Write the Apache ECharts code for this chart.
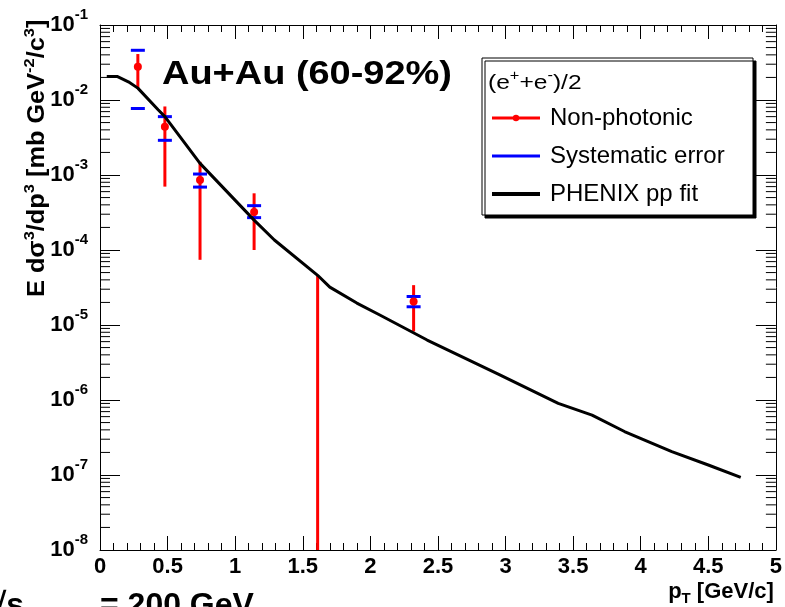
<!DOCTYPE html>
<html><head><meta charset="utf-8">
<script src="https://cdn.jsdelivr.net/npm/echarts@6/dist/echarts.min.js"></script>
<style>html,body{margin:0;padding:0;background:#fff}#c{width:785px;height:607px}</style>
</head><body><div id="c"></div>
<script>
const FONT = "'Liberation Sans', Arial, Helvetica, sans-serif";

// ---- Non-photonic electrons (e+ + e-)/2, Au+Au 60-92% ----
const ptPoints    = [0.28, 0.48, 0.74, 1.14, 1.61, 2.32];
const yieldPoints = [2.78e-2, 4.4e-3, 8.6e-4, 3.2e-4, null, 2.05e-5];
const statHigh    = [4.1e-2, 8.2e-3, 1.50e-3, 5.7e-4, 4.6e-5, 3.4e-5];
const statLow     = [1.40e-2, 7.0e-4, 7.4e-5, 1.0e-4, 0, 8.2e-6];   // 0 = below axis range
const sysHigh     = [4.6e-2, 6.0e-3, 1.03e-3, 3.9e-4, null, 2.4e-5];
const sysLow      = [7.7e-3, 2.9e-3, 6.9e-4, 2.7e-4, null, 1.75e-5];

// ---- PHENIX pp fit ----
const ptFit     = [0.05, 0.13, 0.21, 0.28, 0.43, 0.48, 0.74, 1.14, 1.29, 1.61, 1.70, 1.90, 2.07, 2.42, 2.95, 3.39, 3.64, 3.88, 4.23, 4.50, 4.74];
const fitValues = [2.05e-2, 2.05e-2, 1.75e-2, 1.44e-2, 7.4e-3, 6.0e-3, 1.43e-3, 2.5e-4, 1.36e-4, 4.6e-5, 3.2e-5, 1.96e-5, 1.36e-5, 6.3e-6, 2.2e-6, 9.0e-7, 6.3e-7, 3.8e-7, 2.05e-7, 1.36e-7, 9.3e-8];

// ---- axes ----
const X_MIN = 0, X_MAX = 5, X_STEP = 0.5;
const Y_MIN = 1e-8, Y_MAX = 1e-1;
const yDecadeExponents = [-8, -7, -6, -5, -4, -3, -2, -1];
const yMinorMultipliers = [2, 3, 4, 5, 6, 7, 8, 9];

const yMinorTicks = [];
yDecadeExponents.slice(0, -1).forEach(e => yMinorMultipliers.forEach(k => yMinorTicks.push([X_MIN, k * Math.pow(10, e)])));

const chart = echarts.init(document.getElementById('c'), null, {renderer: 'canvas'});

const axisLineStyle = {color: '#000', width: 1};
const baseX = {
  type: 'value', min: X_MIN, max: X_MAX, interval: X_STEP,
  axisLine: {show: true, onZero: false, lineStyle: axisLineStyle},
  axisTick: {show: true, inside: true, length: 14, lineStyle: axisLineStyle},
  minorTick: {show: true, splitNumber: 5, length: 7, lineStyle: axisLineStyle},
  splitLine: {show: false}, minorSplitLine: {show: false}
};
const baseY = {
  type: 'log', logBase: 10, min: Y_MIN, max: Y_MAX, splitNumber: 7,
  axisLine: {show: true, onZero: false, lineStyle: axisLineStyle},
  axisTick: {show: true, inside: true, length: 20, lineStyle: axisLineStyle},
  minorTick: {show: false},
  splitLine: {show: false}
};

const option = {
  animation: false,
  backgroundColor: '#fff',
  grid: {left: 100, right: 7, top: 25, bottom: 57, containLabel: false},
  xAxis: [
    Object.assign({}, baseX, {
      position: 'bottom',
      axisLabel: {show: true, margin: 6, color: '#000', fontFamily: FONT, fontSize: 22, fontWeight: 'bold', showMinLabel: true, showMaxLabel: true},
      name: '{p|p}{t|T}{p| [GeV/c]}', nameLocation: 'end', nameGap: -2,
      nameTextStyle: {align: 'right', verticalAlign: 'top', padding: [28, 0, 0, 0],
        rich: {p: {fontFamily: FONT, fontSize: 22, fontWeight: 'bold', color: '#000', lineHeight: 28},
               t: {fontFamily: FONT, fontSize: 15, fontWeight: 'bold', color: '#000', lineHeight: 14, verticalAlign: 'bottom'}}}
    }),
    Object.assign({}, baseX, {position: 'top', axisLabel: {show: false}})
  ],
  yAxis: [
    Object.assign({}, baseY, {
      position: 'left',
      axisLabel: {show: true, margin: 12, showMinLabel: true, showMaxLabel: true,
        formatter: v => '{a|10}{b|' + Math.round(Math.log10(v)) + '}',
        rich: {a: {fontFamily: FONT, fontSize: 22, fontWeight: 'bold', color: '#000', lineHeight: 36},
               b: {fontFamily: FONT, fontSize: 15, fontWeight: 'bold', color: '#000', lineHeight: 10, verticalAlign: 'top'}}}
    }),
    Object.assign({}, baseY, {position: 'right', axisLabel: {show: false}})
  ],
  legend: {
    left: 490, top: 106, orient: 'vertical', padding: 0,
    itemWidth: 48, itemHeight: 8, itemGap: 14, selectedMode: false,
    textStyle: {fontFamily: FONT, fontSize: 24, color: '#000', lineHeight: 24, padding: [0, 0, 0, 5]},
    data: [
      {name: 'Non-photonic', lineStyle: {opacity: 1, width: 3, color: '#ff0000'}, itemStyle: {color: '#ff0000'}},
      {name: 'Systematic error', lineStyle: {opacity: 1, width: 3, color: '#0000ff'}, itemStyle: {opacity: 0}},
      {name: 'PHENIX pp fit', lineStyle: {opacity: 1, width: 4, color: '#000'}, itemStyle: {opacity: 0}}
    ]
  },
  graphic: [
    {type: 'rect', z: 1, shape: {x: 482, y: 58, width: 271, height: 157},
     style: {fill: '#fff', stroke: '#000', lineWidth: 1, shadowColor: '#000', shadowOffsetX: 3, shadowOffsetY: 3, shadowBlur: 0}},
    {type: 'text', z: 2, x: 488, y: 83, scaleX: 1.17,
     style: {text: '{n|(e}{s|+}{n|+e}{s|-}{n|)/2}', textAlign: 'left', textVerticalAlign: 'middle',
       rich: {n: {fontFamily: FONT, fontSize: 21, color: '#000', lineHeight: 28},
              s: {fontFamily: FONT, fontSize: 14, color: '#000', lineHeight: 12, verticalAlign: 'top'}}}},
    {type: 'text', z: 2, x: 162, y: 75, scaleX: 1.15,
     style: {text: 'Au+Au (60-92%)', fontFamily: FONT, fontSize: 33, fontWeight: 'bold', fill: '#000', textAlign: 'left', textVerticalAlign: 'middle'}},
    {type: 'text', z: 2, x: 38, y: 297, rotation: Math.PI / 2, scaleX: 1.1,
     style: {text: '{n|E d\u03c3}{s|3}{n|/dp}{s|3}{n| [mb GeV}{s|-2}{n|/c}{s|3}{n|]}', textAlign: 'left', textVerticalAlign: 'middle',
       rich: {n: {fontFamily: FONT, fontSize: 23, fontWeight: 'bold', color: '#000', lineHeight: 32},
              s: {fontFamily: FONT, fontSize: 15, fontWeight: 'bold', color: '#000', lineHeight: 12, verticalAlign: 'top'}}}},
    {type: 'text', z: 2, x: 24, y: 606,
     style: {text: '\u221as', fontFamily: FONT, fontSize: 32, fontWeight: 'bold', fill: '#000', textAlign: 'right', textVerticalAlign: 'middle'}},
    {type: 'text', z: 2, x: 26, y: 622,
     style: {text: 'NN', fontFamily: FONT, fontSize: 22, fontWeight: 'bold', fill: '#000', textAlign: 'left', textVerticalAlign: 'middle'}},
    {type: 'text', z: 2, x: 100, y: 606,
     style: {text: '= 200 GeV', fontFamily: FONT, fontSize: 32, fontWeight: 'bold', fill: '#000', textAlign: 'left', textVerticalAlign: 'middle'}}
  ],
  series: [
    {
      name: 'yMinorTicks', type: 'custom', z: 1, clip: false, silent: true,
      data: yMinorTicks,
      renderItem: (params, api) => {
        const v = api.value(1);
        const l = api.coord([X_MIN, v]);
        const r = api.coord([X_MAX, v]);
        const st = {stroke: '#000', lineWidth: 1};
        return {type: 'group', children: [
          {type: 'line', shape: {x1: l[0], y1: l[1], x2: l[0] + 10, y2: l[1]}, style: st},
          {type: 'line', shape: {x1: r[0] - 10, y1: r[1], x2: r[0], y2: r[1]}, style: st}
        ]};
      }
    },
    {
      name: 'Statistical error', type: 'custom', z: 2, clip: true, silent: true,
      data: ptPoints.map((p, i) => [p, statHigh[i], statLow[i]]),
      renderItem: (params, api) => {
        const x = api.value(0), hi = api.value(1), lo = api.value(2);
        const p1 = api.coord([x, hi]);
        const p2 = api.coord([x, lo > 0 ? lo : Y_MIN]);
        return {type: 'line', shape: {x1: p1[0], y1: p1[1], x2: p2[0], y2: p2[1]}, style: {stroke: '#ff0000', lineWidth: 3}};
      }
    },
    {
      name: 'Systematic error caps', type: 'custom', z: 3, clip: true, silent: true,
      data: ptPoints.map((p, i) => [p, sysLow[i], sysHigh[i]]),
      renderItem: (params, api) => {
        const x = api.value(0), lo = api.value(1), hi = api.value(2);
        if (!(lo > 0) || !(hi > 0)) return {type: 'group', children: []};
        const a = api.coord([x, lo]), b = api.coord([x, hi]);
        const st = {stroke: '#0000ff', lineWidth: 3};
        return {type: 'group', children: [
          {type: 'line', shape: {x1: a[0] - 7, y1: a[1], x2: a[0] + 7, y2: a[1]}, style: st},
          {type: 'line', shape: {x1: b[0] - 7, y1: b[1], x2: b[0] + 7, y2: b[1]}, style: st}
        ]};
      }
    },
    {
      name: 'Systematic error', type: 'line', data: [], color: '#0000ff', symbol: 'none',
      lineStyle: {color: '#0000ff', width: 3}, showSymbol: false
    },
    {
      name: 'PHENIX pp fit', type: 'line', z: 4, color: '#000',
      data: ptFit.map((p, i) => [p, fitValues[i]]),
      showSymbol: false, symbol: 'none', smooth: false,
      lineStyle: {color: '#000', width: 3}
    },
    {
      name: 'Non-photonic', type: 'line', z: 5, color: '#ff0000',
      data: ptPoints.map((p, i) => [p, yieldPoints[i]]),
      symbol: 'circle', symbolSize: 8, showSymbol: true, connectNulls: false,
      itemStyle: {color: '#ff0000'},
      lineStyle: {opacity: 0, width: 3, color: '#ff0000'}
    }
  ]
};
chart.setOption(option);
</script>
</body></html>
